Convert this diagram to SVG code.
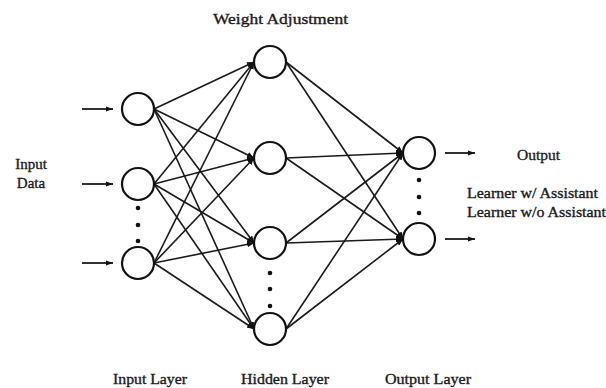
<svg xmlns="http://www.w3.org/2000/svg" width="606" height="388" viewBox="0 0 606 388">
<style>
.node{fill:#fff;stroke:#111;stroke-width:2.2}
.edge{stroke:#1a1a1a;stroke-width:1.6;fill:none;marker-end:url(#ah)}
.io{stroke:#1a1a1a;stroke-width:1.8;fill:none;marker-end:url(#ah2)}
.dot{fill:#111}
text{font-family:"Liberation Serif","Times New Roman",serif;font-size:15px;fill:#1a1a1a;stroke:#1a1a1a;stroke-width:0.35}
</style>
<defs>
<marker id="ah" markerUnits="userSpaceOnUse" markerWidth="8" markerHeight="6" refX="7" refY="3" orient="auto"><path d="M0,0 L7,3 L0,6 z" fill="#111"/></marker>
<marker id="ah2" markerUnits="userSpaceOnUse" markerWidth="8" markerHeight="6" refX="7" refY="3" orient="auto"><path d="M0,0.5 L7,3 L0,5.5 z" fill="#111"/></marker>
</defs>
<rect width="606" height="388" fill="#fff"/>
<g id="connectors">
<path class="edge" d="M154,109 L254,62"/>
<path class="edge" d="M154,109 L254,158"/>
<path class="edge" d="M154,109 L254,243"/>
<path class="edge" d="M154,109 L254,329"/>
<path class="edge" d="M154,184 L254,62"/>
<path class="edge" d="M154,184 L254,158"/>
<path class="edge" d="M154,184 L254,243"/>
<path class="edge" d="M154,184 L254,329"/>
<path class="edge" d="M154,263 L254,62"/>
<path class="edge" d="M154,263 L254,158"/>
<path class="edge" d="M154,263 L254,243"/>
<path class="edge" d="M154,263 L254,329"/>
<path class="edge" d="M286,62 L403,153"/>
<path class="edge" d="M286,62 L403,239"/>
<path class="edge" d="M286,158 L403,153"/>
<path class="edge" d="M286,158 L403,239"/>
<path class="edge" d="M286,243 L403,153"/>
<path class="edge" d="M286,243 L403,239"/>
<path class="edge" d="M286,329 L403,153"/>
<path class="edge" d="M286,329 L403,239"/>
<path class="io" d="M82,109 L113,109"/>
<path class="io" d="M82,184 L113,184"/>
<path class="io" d="M82,263 L113,263"/>
<path class="io" d="M445,153 L475,153"/>
<path class="io" d="M445,239 L475,239"/>
</g>
<g id="input1"><circle class="node" cx="138" cy="109" r="16"/></g>
<g id="input2"><circle class="node" cx="138" cy="184" r="16"/></g>
<g id="input3"><circle class="node" cx="138" cy="263" r="16"/></g>
<g id="input-dots"><circle class="dot" cx="138" cy="208" r="2.3"/><circle class="dot" cx="138" cy="225" r="2.3"/><circle class="dot" cx="138" cy="241" r="2.3"/></g>
<g id="hidden1"><circle class="node" cx="270" cy="62" r="16"/></g>
<g id="hidden2"><circle class="node" cx="270" cy="158" r="16"/></g>
<g id="hidden3"><circle class="node" cx="270" cy="243" r="16"/></g>
<g id="hidden4"><circle class="node" cx="270" cy="329" r="16"/></g>
<g id="hidden-dots"><circle class="dot" cx="270" cy="273" r="2.3"/><circle class="dot" cx="270" cy="289" r="2.3"/><circle class="dot" cx="270" cy="306" r="2.3"/></g>
<g id="output1"><circle class="node" cx="419" cy="153" r="16"/></g>
<g id="output2"><circle class="node" cx="419" cy="239" r="16"/></g>
<g id="output-dots"><circle class="dot" cx="419" cy="180" r="2.3"/><circle class="dot" cx="419" cy="197" r="2.3"/><circle class="dot" cx="419" cy="213" r="2.3"/></g>
<g id="labels">
<text x="213" y="24" textLength="135" lengthAdjust="spacingAndGlyphs">Weight Adjustment</text>
<text x="31" y="169" text-anchor="middle">Input</text>
<text x="31" y="188" text-anchor="middle">Data</text>
<text x="517" y="160" textLength="43" lengthAdjust="spacingAndGlyphs">Output</text>
<text x="467" y="198" textLength="131" lengthAdjust="spacingAndGlyphs">Learner w/ Assistant</text>
<text x="467" y="217" textLength="139" lengthAdjust="spacingAndGlyphs">Learner w/o Assistant</text>
<text x="113" y="384" textLength="74" lengthAdjust="spacingAndGlyphs">Input Layer</text>
<text x="241" y="384" textLength="88" lengthAdjust="spacingAndGlyphs">Hidden Layer</text>
<text x="385" y="384" textLength="86" lengthAdjust="spacingAndGlyphs">Output Layer</text>
</g>
</svg>
